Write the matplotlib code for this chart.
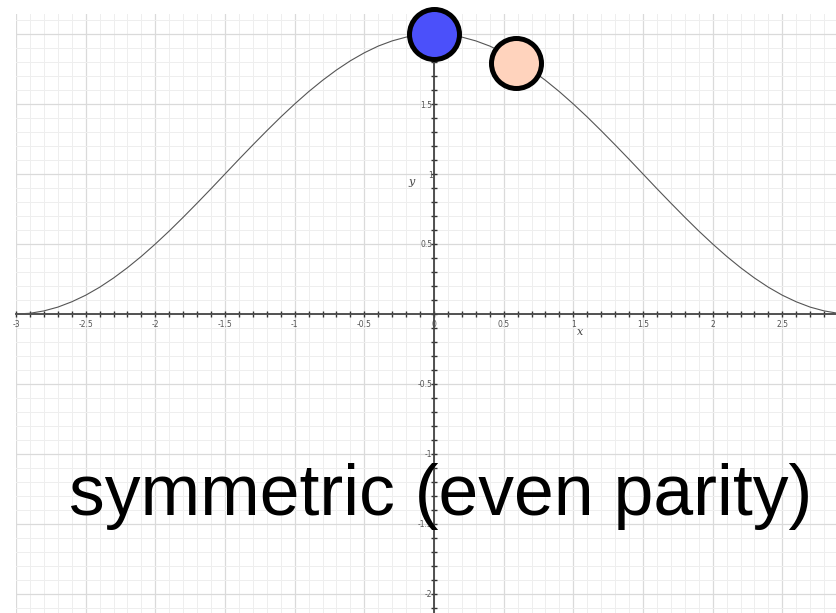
import numpy as np
import matplotlib
matplotlib.use('Agg')
from matplotlib import pyplot as plt
from matplotlib.ticker import MultipleLocator, FixedLocator

# curve values, x from -3 to 3 in steps of 0.1
curve_x = [-3.0, -2.9, -2.8, -2.7, -2.6, -2.5, -2.4, -2.3, -2.2, -2.1,
           -2.0, -1.9, -1.8, -1.7, -1.6, -1.5, -1.4, -1.3, -1.2, -1.1,
           -1.0, -0.9, -0.8, -0.7, -0.6, -0.5, -0.4, -0.3, -0.2, -0.1,
           0.0, 0.1, 0.2, 0.3, 0.4, 0.5, 0.6, 0.7, 0.8, 0.9,
           1.0, 1.1, 1.2, 1.3, 1.4, 1.5, 1.6, 1.7, 1.8, 1.9,
           2.0, 2.1, 2.2, 2.3, 2.4, 2.5, 2.6, 2.7, 2.8, 2.9, 3.0]
curve_y = [0.0, 0.005, 0.022, 0.049, 0.087, 0.134, 0.191, 0.257, 0.331, 0.412,
           0.5, 0.593, 0.691, 0.792, 0.895, 1.0, 1.105, 1.208, 1.309, 1.407,
           1.5, 1.588, 1.669, 1.743, 1.809, 1.866, 1.914, 1.951, 1.978, 1.995,
           2.0, 1.995, 1.978, 1.951, 1.914, 1.866, 1.809, 1.743, 1.669, 1.588,
           1.5, 1.407, 1.309, 1.208, 1.105, 1.0, 0.895, 0.792, 0.691, 0.593,
           0.5, 0.412, 0.331, 0.257, 0.191, 0.134, 0.087, 0.049, 0.022, 0.005, 0.0]

# the two highlighted points
point_x = [0.0, 0.59]
point_y = [2.0, 1.79]
point_colors = ['#4b50fa', '#ffd3bd']

x_ticks = [-3, -2.5, -2, -1.5, -1, -0.5, 0, 0.5, 1, 1.5, 2, 2.5]
x_tick_labels = ['-3', '-2.5', '-2', '-1.5', '-1', '-0.5', '0', '0.5', '1', '1.5', '2', '2.5']
y_ticks = [-2, -1.5, -1, -0.5, 0.5, 1, 1.5, 2]
y_tick_labels = ['-2', '-1.5', '-1', '-0.5', '0.5', '1', '1.5', '2']

caption = 'symmetric (even parity)'

fig = plt.figure(figsize=(8.36, 6.13), dpi=100)
ax = fig.add_axes([16 / 836, 0, 820 / 836, 599 / 613])
ax.set_xlim(-3, 2.885)
ax.set_ylim(-2.136, 2.143)

# grid paper look
ax.xaxis.set_minor_locator(MultipleLocator(0.1))
ax.yaxis.set_minor_locator(MultipleLocator(0.1))
ax.xaxis.set_major_locator(FixedLocator(x_ticks))
ax.yaxis.set_major_locator(FixedLocator(y_ticks))
ax.set_xticklabels(x_tick_labels)
ax.set_yticklabels(y_tick_labels)
ax.grid(which='major', color='#dadada', linewidth=0.9)
ax.grid(which='minor', color='#eeeeee', linewidth=0.7)
ax.set_axisbelow(True)

# axes through the origin
for side in ['top', 'right']:
    ax.spines[side].set_visible(False)
ax.spines['left'].set_position(('data', 0))
ax.spines['bottom'].set_position(('data', 0))
for side in ['left', 'bottom']:
    ax.spines[side].set_color('#444444')
    ax.spines[side].set_linewidth(1.3)
    ax.spines[side].set_zorder(2)

ax.tick_params(which='both', direction='inout', length=4, width=1, color='#333333')
ax.tick_params(axis='x', which='major', labelsize=5.5, labelcolor='#555555', pad=2)
ax.tick_params(axis='y', which='major', labelsize=5.5, labelcolor='#555555', pad=-1)

ax.plot(curve_x, curve_y, color='#555555', linewidth=0.8, zorder=3)

for px, py, c in zip(point_x, point_y, point_colors):
    ax.plot(px, py, 'o', markersize=36, markerfacecolor=c, markeredgecolor='black',
            markeredgewidth=3.6, zorder=5, clip_on=False)

ax.text(-0.16, 0.94, 'y', fontsize=8, fontfamily='DejaVu Serif', style='italic',
        color='#444444', ha='center', va='center')
ax.text(1.05, -0.13, 'x', fontsize=8, fontfamily='DejaVu Serif', style='italic',
        color='#444444', ha='center', va='center')

fig.text(0.527, 98 / 613, caption, fontsize=51.5, fontfamily='Liberation Sans',
         color='black', ha='center', va='baseline', zorder=10)

fig.savefig('out.png', dpi=100)
